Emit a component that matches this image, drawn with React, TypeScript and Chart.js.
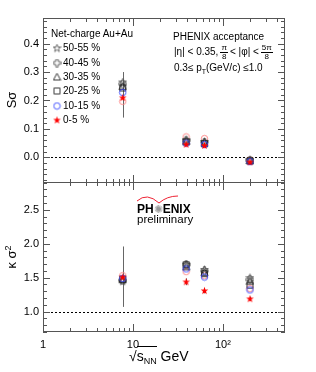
import React, { useEffect, useRef } from "react";
import { Chart, registerables } from "chart.js";
Chart.register(...registerables);

const FONT = "'Liberation Sans', Arial, Helvetica, sans-serif";

// collision energies (GeV)
const energies = [7.7, 39, 62.4, 200];
const centralities = ["50-55 %", "40-45 %", "30-35 %", "20-25 %", "10-15 %", "0-5 %"];

// S*sigma
const sSigma50_55 = [0.265, 0.062, 0.056, -0.008];
const sSigma40_45 = [0.258, 0.06, 0.054, -0.01];
const sSigma30_35 = [0.25, 0.057, 0.051, -0.011];
const sSigma20_25 = [0.244, 0.054, 0.048, -0.013];
const sSigma10_15 = [0.228, 0.05, 0.045, -0.015];
const sSigma0_5 = [0.21, 0.046, 0.042, -0.016];
const sSigmaExtra = [0.197, 0.072, 0.066, -0.01];
const sSigma0_5ErrLow = [0.14, 0.04, 0.036, -0.02];
const sSigma0_5ErrHigh = [0.3, 0.052, 0.048, -0.012];

// kappa*sigma^2
const kSigma50_55 = [1.45, 1.7, 1.62, 1.5];
const kSigma40_45 = [1.46, 1.69, 1.6, 1.47];
const kSigma30_35 = [1.47, 1.66, 1.58, 1.45];
const kSigma20_25 = [1.48, 1.69, 1.56, 1.39];
const kSigma10_15 = [1.49, 1.63, 1.51, 1.32];
const kSigma0_5 = [1.51, 1.44, 1.31, 1.19];
const kSigmaExtra = [1.53, 1.59, 1.53, 1.34];
const kSigma0_5ErrLow = [1.07, 1.39, 1.27, 1.16];
const kSigma0_5ErrHigh = [1.96, 1.49, 1.35, 1.22];

const xTicks = [1, 10, 100];
const xTickLabels = ["1", "10", "10²"];
const sSigmaTicks = [0, 0.1, 0.2, 0.3, 0.4];
const kSigmaTicks = [1.0, 1.5, 2.0, 2.5];

const legendRowsY = [48.3, 62.7, 77.3, 91, 106, 120];

function makeMarker(kind: string, color: string, fill: boolean) {
  const c = document.createElement("canvas");
  c.width = 9;
  c.height = 9;
  const ctx = c.getContext("2d")!;
  ctx.translate(4.5, 4.5);
  ctx.strokeStyle = color;
  ctx.fillStyle = color;
  ctx.lineWidth = 0.9;
  ctx.beginPath();
  if (kind === "star") {
    for (let i = 0; i < 10; i++) {
      const a = -Math.PI / 2 + (i * Math.PI) / 5;
      const r = i % 2 ? 1.6 : 4;
      const px = r * Math.cos(a), py = r * Math.sin(a) + 0.3;
      if (i === 0) ctx.moveTo(px, py); else ctx.lineTo(px, py);
    }
    ctx.closePath();
  } else if (kind === "plus") {
    const a = 1.3, b = 3.6;
    const pts = [[-a, -b], [a, -b], [a, -a], [b, -a], [b, a], [a, a], [a, b], [-a, b], [-a, a], [-b, a], [-b, -a], [-a, -a]];
    pts.forEach((p, i) => (i ? ctx.lineTo(p[0], p[1]) : ctx.moveTo(p[0], p[1])));
    ctx.closePath();
  } else if (kind === "triangle") {
    ctx.moveTo(0, -3.7);
    ctx.lineTo(3.6, 3);
    ctx.lineTo(-3.6, 3);
    ctx.closePath();
  } else if (kind === "square") {
    ctx.rect(-3, -3, 6, 6);
  } else {
    ctx.arc(0, 0, 3.2, 0, Math.PI * 2);
  }
  if (fill) ctx.fill(); else ctx.stroke();
  return c;
}

function makePlugin(p: any) {
  return {
    id: "frameTicks" + (p.legend ? "Top" : "Bottom"),
    beforeDatasetsDraw(chart: any) {
      const { ctx, chartArea: a, scales } = chart;
      const x = scales.x, y = scales.y;
      ctx.save();
      const yy = Math.round(y.getPixelForValue(p.refLine));
      ctx.fillStyle = "#000";
      for (let xx = Math.round(a.left); xx < a.right; xx += 4) {
        ctx.fillRect(xx, yy, 2, 1);
      }
      ctx.fillStyle = "#666";
      energies.forEach((e, i) => {
        const px = Math.round(x.getPixelForValue(e));
        const y1 = y.getPixelForValue(p.errHigh[i]);
        const y2 = y.getPixelForValue(p.errLow[i]);
        ctx.fillRect(px, y1, 1, y2 - y1);
      });
      ctx.restore();
    },
    afterDraw(chart: any) {
      const { ctx, chartArea: a, scales } = chart;
      const x = scales.x, y = scales.y;
      ctx.save();
      ctx.globalAlpha = 1;
      ctx.globalCompositeOperation = "source-over";
      ctx.fillStyle = "#555555";
      const L = Math.round(a.left), R = Math.round(a.right) - 1;
      const T = Math.round(a.top), B = Math.round(a.bottom) - 1;
      ctx.fillRect(L, T, R - L + 1, 1);
      ctx.fillRect(L, B, R - L + 1, 1);
      ctx.fillRect(L, T, 1, B - T + 1);
      ctx.fillRect(R, T, 1, B - T + 1);
      // y ticks
      const n0 = Math.ceil(p.yMin / p.yStep), n1 = Math.floor(p.yMax / p.yStep);
      for (let n = n0; n <= n1; n++) {
        const v = n * p.yStep;
        const major = n % p.yMajorEvery === 0;
        const len = major ? 7 : 4;
        const py = Math.round(y.getPixelForValue(v));
        ctx.fillRect(L, py, len, 1);
        ctx.fillRect(R - len + 1, py, len, 1);
      }
      // x ticks (log)
      for (let dec = 1; dec <= 1000; dec *= 10) {
        for (let k = 1; k <= 9; k++) {
          const v = k * dec;
          if (v < p.xMin || v > p.xMax) continue;
          const len = k === 1 ? 8 : 4;
          const px = Math.round(x.getPixelForValue(v));
          ctx.fillRect(px, T, 1, len);
          ctx.fillRect(px, B - len + 1, 1, len);
        }
      }
      if (p.legend) {
        chart.data.datasets.forEach((ds: any, i: number) => {
          if (i >= legendRowsY.length) return;
          const img = ds.pointStyle as HTMLCanvasElement;
          ctx.drawImage(img, 57 - img.width / 2, Math.round(legendRowsY[i]) - img.height / 2);
        });
      }
      ctx.restore();
    },
  };
}

function buildDatasets(values: number[][], markers: HTMLCanvasElement[]) {
  const labels = [...centralities, ""];
  const orders = [5, 4, 3, 2, 1, 0, 6];
  return values.map((vals, i) => ({
    label: labels[i],
    data: energies.map((e, j) => ({ x: e, y: vals[j] })),
    showLine: false,
    pointStyle: markers[i],
    pointRadius: 4,
    order: orders[i],
  }));
}

const zeroPad = (s: any) => {
  s.width = 43;
  s.paddingTop = 0;
  s.paddingBottom = 0;
};

export default function App() {
  const topRef = useRef<HTMLCanvasElement>(null);
  const botRef = useRef<HTMLCanvasElement>(null);

  useEffect(() => {
    const markers = [
      makeMarker("star", "#555", false),
      makeMarker("plus", "#555", false),
      makeMarker("triangle", "#222", false),
      makeMarker("square", "#222", false),
      makeMarker("circle", "#3344ff", false),
      makeMarker("star", "#ff0000", true),
      makeMarker("circle", "#ff8080", false),
    ];
    const tickFont = { family: FONT, size: 11 };

    const top = new Chart(topRef.current!, {
      type: "scatter",
      data: {
        datasets: buildDatasets(
          [sSigma50_55, sSigma40_45, sSigma30_35, sSigma20_25, sSigma10_15, sSigma0_5, sSigmaExtra],
          markers
        ) as any,
      },
      options: {
        responsive: false,
        animation: false,
        devicePixelRatio: 1,
        layout: { autoPadding: false, padding: { left: 0, right: 31, top: 18, bottom: 0 } },
        plugins: { legend: { display: false }, tooltip: { enabled: false } },
        scales: {
          x: { type: "logarithmic", min: 1, max: 490, display: false },
          y: {
            type: "linear",
            min: -0.09,
            max: 0.49,
            afterFit: zeroPad,
            afterBuildTicks: (s: any) => { s.ticks = sSigmaTicks.map((v) => ({ value: v })); },
            ticks: { callback: (v: any) => Number(v).toFixed(1), font: tickFont, color: "#000", padding: 4 },
            grid: { display: false, drawTicks: false },
            border: { display: false },
          },
        },
      } as any,
      plugins: [
        makePlugin({ refLine: 0, errLow: sSigma0_5ErrLow, errHigh: sSigma0_5ErrHigh, yMin: -0.09, yMax: 0.49, yStep: 0.02, yMajorEvery: 5, xMin: 1, xMax: 490, legend: true }),
      ],
    });

    const bot = new Chart(botRef.current!, {
      type: "scatter",
      data: {
        datasets: buildDatasets(
          [kSigma50_55, kSigma40_45, kSigma30_35, kSigma20_25, kSigma10_15, kSigma0_5, kSigmaExtra],
          markers
        ) as any,
      },
      options: {
        responsive: false,
        animation: false,
        devicePixelRatio: 1,
        layout: { autoPadding: false, padding: { left: 0, right: 31, top: 0, bottom: 0 } },
        plugins: { legend: { display: false }, tooltip: { enabled: false } },
        scales: {
          x: {
            type: "logarithmic",
            min: 1,
            max: 490,
            afterFit: (s: any) => { s.height = 40; s.paddingLeft = 0; s.paddingRight = 0; },
            afterBuildTicks: (s: any) => { s.ticks = xTicks.map((v) => ({ value: v })); },
            ticks: {
              callback: (_v: any, i: number) => xTickLabels[i],
              font: tickFont,
              color: "#000",
              padding: 6,
              maxRotation: 0,
              autoSkip: false,
            },
            grid: { display: false, drawTicks: false },
            border: { display: false },
          },
          y: {
            type: "linear",
            min: 0.7,
            max: 2.91,
            afterFit: zeroPad,
            afterBuildTicks: (s: any) => { s.ticks = kSigmaTicks.map((v) => ({ value: v })); },
            ticks: { callback: (v: any) => Number(v).toFixed(1), font: tickFont, color: "#000", padding: 4 },
            grid: { display: false, drawTicks: false },
            border: { display: false },
          },
        },
      } as any,
      plugins: [
        makePlugin({ refLine: 1, errLow: kSigma0_5ErrLow, errHigh: kSigma0_5ErrHigh, yMin: 0.7, yMax: 2.91, yStep: 0.1, yMajorEvery: 5, xMin: 1, xMax: 490, legend: false }),
      ],
    });

    return () => {
      top.destroy();
      bot.destroy();
    };
  }, []);

  const abs = (left: number, top: number, extra: any = {}) => ({
    position: "absolute" as const,
    left,
    top,
    lineHeight: 1,
    whiteSpace: "nowrap" as const,
    ...extra,
  });

  const Frac = ({ n, d }: { n: string; d: string }) => (
    <span style={{ display: "inline-flex", flexDirection: "column", alignItems: "center", fontSize: 8, lineHeight: "8px", margin: "0 2px", verticalAlign: "middle" }}>
      <span style={{ borderBottom: "1px solid #000", padding: "0 1px" }}>{n}</span>
      <span>{d}</span>
    </span>
  );

  return (
    <div style={{ position: "absolute", left: 0, top: 0, width: 316, height: 372, background: "#fff", fontFamily: FONT, color: "#000", overflow: "hidden" }}>
      <canvas ref={topRef} width={316} height={183} style={{ position: "absolute", left: 0, top: 0 }} />
      <canvas ref={botRef} width={316} height={190} style={{ position: "absolute", left: 0, top: 182 }} />

      <div style={abs(51, 29, { fontSize: 10 })}>Net-charge Au+Au</div>
      {centralities.map((c, i) => (
        <div key={c} style={abs(63, legendRowsY[i] - 5, { fontSize: 10 })}>{c}</div>
      ))}

      <div style={abs(173, 32, { fontSize: 10 })}>PHENIX acceptance</div>
      <div style={abs(174, 43, { fontSize: 10, display: "flex", alignItems: "center", height: 18 })}>
        <span>|η| &lt; 0.35,</span>
        <Frac n="π" d="8" />
        <span>&lt; |φ| &lt;</span>
        <Frac n="5π" d="8" />
      </div>
      <div style={abs(174, 63, { fontSize: 10 })}>
        0.3≤ p<sub style={{ fontSize: 7, verticalAlign: "-3px", lineHeight: 0 }}>T</sub>(GeV/c) ≤1.0
      </div>

      <svg width={316} height={372} style={{ position: "absolute", left: 0, top: 0, pointerEvents: "none" }}>
        <path d="M137,201 Q147,192 159,203 Q167,196 178,196" stroke="#e23" strokeWidth={1} fill="none" />
      </svg>
      <div style={abs(137, 203, { fontSize: 12, fontWeight: "bold" })}>
        PH<span style={{ color: "#999", fontWeight: "normal", fontSize: 11 }}>✺</span>ENIX
      </div>
      <div style={abs(137, 214, { fontSize: 11.5 })}>preliminary</div>

      <div style={{ position: "absolute", left: 11, top: 100, transform: "translate(-50%,-50%) rotate(-90deg)", fontSize: 13, lineHeight: 1, whiteSpace: "nowrap" }}>Sσ</div>
      <div style={{ position: "absolute", left: 11, top: 257, transform: "translate(-50%,-50%) rotate(-90deg)", fontSize: 13, lineHeight: 1, whiteSpace: "nowrap" }}>
        κ σ<sup style={{ fontSize: 9, verticalAlign: "5px", lineHeight: 0 }}>2</sup>
      </div>

      <div style={abs(129, 349, { fontSize: 14 })}>
        √<span style={{ borderTop: "1px solid #000", paddingTop: 1 }}>s<sub style={{ fontSize: 9, verticalAlign: "-3px", lineHeight: 0 }}>NN</sub></span> GeV
      </div>
    </div>
  );
}
